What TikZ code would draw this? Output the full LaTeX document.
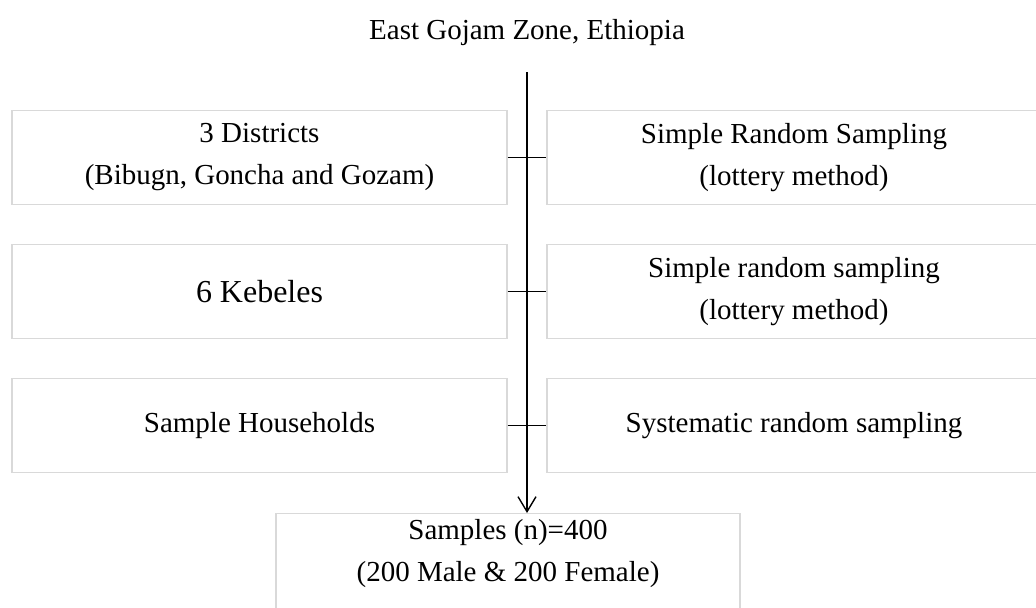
\documentclass[tikz,border=0pt]{standalone}
\usepackage{fontspec}
\setmainfont{Liberation Serif}
\usetikzlibrary{arrows.meta}

\begin{document}
\begin{tikzpicture}[
  box/.style={draw=black!15,line width=0.8pt,minimum width=9.9cm,minimum height=1.88cm,
    align=center,inner sep=0pt,font=\fontsize{16.5}{23.9}\selectfont},
  tick/.style={draw=black,line width=0.8pt}]

\clip (0,0) rectangle (20.72,12.14);

\node (title) at (10.54,11.48) {\fontsize{16.5}{20}\selectfont East Gojam Zone, Ethiopia};
\coordinate (top) at (10.54,10.70);

%left column
\node[box] (dist) at (5.19,8.99) {3 Districts\\(Bibugn, Goncha and Gozam)};
\node[box,font=\fontsize{18.2}{23.9}\selectfont] (keb) at (5.19,6.31) {6 Kebeles};
\node[box] (hh) at (5.19,3.63) {Sample Households};

%right column
\node[box,minimum width=9.88cm] (srs1) at (15.88,8.99) {Simple Random Sampling\\(lottery method)};
\node[box,minimum width=9.88cm] (srs2) at (15.88,6.31) {Simple random sampling\\(lottery method)};
\node[box,minimum width=9.88cm] (sys) at (15.88,3.63) {Systematic random sampling};

%result
\node[box,anchor=north,minimum width=9.28cm,inner ysep=0.12cm] (samples) at (10.16,1.88)
  {\parbox[c][2.6cm][t]{9cm}{\centering Samples (n)=400\\(200 Male \& 200 Female)}};

\path[tick,-{Straight Barb[length=0.3cm,width=0.36cm]}] (top) -- (samples.north -| top);

\path[tick] (dist.east) -- (srs1.west);
\path[tick] (keb.east) -- (srs2.west);
\path[tick] (hh.east) -- (sys.west);

\end{tikzpicture}
\end{document}
